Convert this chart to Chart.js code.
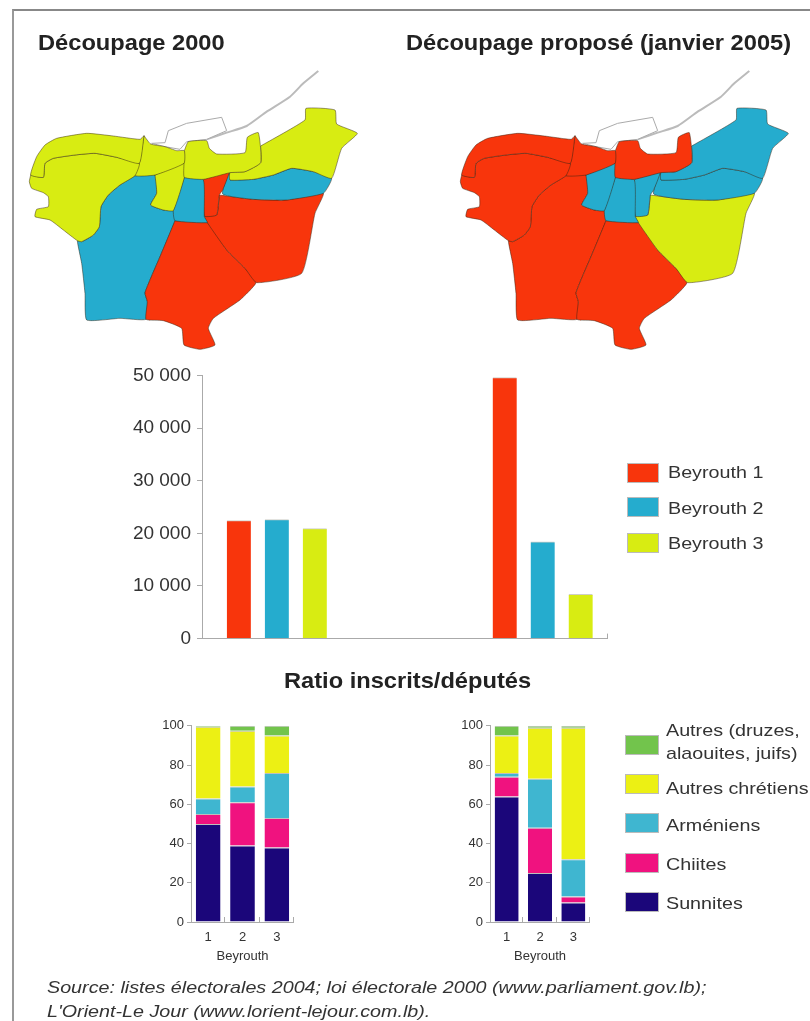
<!DOCTYPE html>
<html lang="fr">
<head>
<meta charset="utf-8">
<title>Découpage électoral de Beyrouth</title>
<script src="https://cdn.jsdelivr.net/npm/chart.js@4"></script>
<style>
  html, body { margin: 0; background: #fff; }
  #page { position: relative; width: 810px; height: 1021px; overflow: hidden; font-family: "Liberation Sans", Arial, sans-serif; color: #222; filter: blur(0.55px); }
  #frame { position: absolute; left: 12px; top: 9px; right: -4px; bottom: -4px; border-left: 2px solid #999; border-top: 2px solid #888; }
  #page canvas { position: absolute; }
  .title { position: absolute; font-weight: bold; font-size: 22px; white-space: nowrap; line-height: 24px; transform: scaleX(1.075); transform-origin: 0 50%; }
  .lg { position: absolute; font-size: 17px; line-height: 23px; white-space: nowrap; color: #333; transform: scaleX(1.16); transform-origin: 0 50%; }
  .sw { position: absolute; box-sizing: border-box; border: 1px solid #bbb; }
  #source { position: absolute; left: 47px; top: 976px; font-size: 17px; font-style: italic; line-height: 24px; white-space: nowrap; color: #333; transform: scaleX(1.16); transform-origin: 0 50%; }
</style>
</head>
<body>
<div id="page">
  <div id="frame"></div>
  <div class="title" style="left:38px;top:31px">Découpage 2000</div>
  <div class="title" style="left:406px;top:31px">Découpage proposé (janvier 2005)</div>
  <div class="title" style="left:284px;top:669px">Ratio inscrits/députés</div>

  <canvas id="map-2000" width="379" height="300" style="left:0;top:60px"></canvas>
  <canvas id="map-2005" width="379" height="300" style="left:431px;top:60px"></canvas>
  <canvas id="ratio-chart" width="508" height="298" style="left:100px;top:358px"></canvas>
  <canvas id="share-2000" width="144" height="249" style="left:150px;top:715px"></canvas>
  <canvas id="share-2005" width="140" height="249" style="left:450px;top:715px"></canvas>

  <div id="legend-ratio"></div>
  <div id="legend-share"></div>
  <div id="source">Source: listes électorales 2004; loi électorale 2000 (www.parliament.gov.lb);<br>L'Orient-Le Jour (www.lorient-lejour.com.lb).</div>
</div>

<script>
// colours
const RED = '#f8350c';
const BLUE = '#25acce';
const LIME = '#d8ec12';

// map outlines (x, y in map units)
const zoneA = [[432,407],[420,418],[340,408],[260,400],[170,415],[135,435],[110,470],[92,525],[130,532],[135,490],[160,475],[225,465],[285,460],[350,472],[418,490]];
const zoneB = [[92,525],[130,532],[135,490],[160,475],[225,465],[285,460],[350,472],[418,490],[405,527],[360,555],[325,585],[303,620],[298,680],[280,705],[245,725],[232,722],[190,690],[150,660],[105,650],[110,628],[145,620],[145,590],[130,578],[95,565],[88,545]];
const zoneC = [[432,407],[452,432],[495,440],[530,452],[553,452],[552,490],[465,525],[405,527],[418,490]];
const zoneD = [[553,452],[565,425],[620,422],[628,445],[650,462],[735,458],[742,412],[775,398],[782,488],[735,515],[690,518],[610,538],[553,532],[552,490]];
const zoneE = [[465,525],[552,490],[553,532],[520,632],[490,630],[452,615],[470,580]];
const zoneF = [[553,532],[610,540],[613,650],[622,668],[525,662],[520,632]];
const zoneG = [[610,538],[688,512],[668,570],[658,585],[650,645],[613,648]];
const zoneH = [[782,438],[915,360],[918,325],[1005,330],[1010,372],[1072,400],[1025,445],[995,535],[940,515],[875,505],[820,525],[760,538],[690,540],[690,518],[735,515],[782,488]];
const zoneI = [[690,540],[760,538],[820,525],[875,505],[940,515],[995,535],[970,580],[860,600],[760,598],[668,582],[688,512]];
const zoneJ = [[658,585],[760,598],[860,600],[970,580],[945,640],[905,820],[770,848],[735,805],[680,750],[622,668],[613,648],[650,645]];
const zoneK = [[525,662],[622,668],[680,750],[735,805],[768,848],[720,900],[640,955],[625,985],[645,1035],[600,1048],[552,1035],[545,985],[490,962],[438,958],[442,905],[435,878],[480,770]];
const zoneL = [[405,527],[465,525],[470,580],[452,615],[490,630],[520,632],[525,662],[480,770],[435,878],[442,905],[438,958],[360,955],[260,960],[255,880],[245,790],[232,722],[245,725],[280,705],[298,680],[303,620],[325,585],[360,555]];
const port = [[455,430],[495,428],[505,392],[560,370],[665,352],[680,392],[620,418],[560,425],[540,448],[495,440]];
const coast = [[620,418],[680,398],[740,378],[800,335],[870,290],[910,250],[955,213]];

const zones = [zoneA, zoneB, zoneC, zoneD, zoneE, zoneF, zoneG, zoneH, zoneI, zoneJ, zoneK, zoneL];
const zoneColors2000 = [LIME, LIME, LIME, LIME, LIME, BLUE, RED, LIME, BLUE, RED, RED, BLUE];
const zoneColors2005 = [RED, RED, RED, RED, BLUE, BLUE, BLUE, BLUE, BLUE, LIME, RED, RED];

// ratio inscrits/députés
const ratioNames = ['Beyrouth 1', 'Beyrouth 2', 'Beyrouth 3'];
const ratioColors = [RED, BLUE, LIME];
const ratioSlots = [[1, 8], [2, 9], [3, 10]];
const ratio1 = [22400, 49600];
const ratio2 = [22600, 18400];
const ratio3 = [20900, 8400];
const ratioTicks = [0, 10000, 20000, 30000, 40000, 50000];

// parts confessionnelles (%), par circonscription
const districts = ['1', '2', '3'];
const shareNames = ['Sunnites', 'Chiites', 'Arméniens', 'Autres chrétiens', 'Autres (druzes, alaouites, juifs)'];
const shareColors = ['#1b067a', '#f0127f', '#3fb6d0', '#ecf014', '#72c44c'];
const sunnites2000 = [50, 39, 38];
const chiites2000 = [5, 22, 15];
const armeniens2000 = [8, 8, 23];
const chretiens2000 = [36.5, 28.5, 19];
const autres2000 = [0.5, 2.5, 5];
const sunnites2005 = [64, 25, 10];
const chiites2005 = [10, 23, 3];
const armeniens2005 = [2, 25, 19];
const chretiens2005 = [19, 26, 67];
const autres2005 = [5, 1, 1];

const AXIS = '#aaa';
const TICK_TEXT = '#333';
const FONT = '"Liberation Sans", Arial, sans-serif';

function closed(points) {
  return points.concat([points[0]]);
}

function drawMap(id, colors) {
  const datasets = zones.map((zone, i) => ({
    data: closed(zone),
    showLine: true,
    fill: 'shape',
    backgroundColor: colors[i],
    borderColor: 'rgba(50,35,20,0.6)',
    borderWidth: 0.8,
    pointRadius: 0,
    tension: 0.15
  }));
  datasets.push({ data: closed(port), showLine: true, fill: 'shape', backgroundColor: '#fff', borderColor: '#aaa', borderWidth: 1, pointRadius: 0 });
  datasets.push({ data: coast, showLine: true, fill: false, borderColor: '#bbb', borderWidth: 2, pointRadius: 0, tension: 0.2 });

  new Chart(document.getElementById(id), {
    type: 'scatter',
    data: { datasets },
    options: {
      responsive: false,
      animation: false,
      events: [],
      layout: { padding: 0 },
      plugins: { legend: { display: false }, tooltip: { enabled: false } },
      scales: {
        x: { type: 'linear', display: false, min: 0, max: 1137 },
        y: { type: 'linear', display: false, min: 180, max: 1080, reverse: true }
      }
    }
  });
}

// small upward ticks on the x axis, at the edges of each slot
const innerTicks = {
  id: 'innerTicks',
  afterDraw(chart) {
    const { ctx, scales: { x } } = chart;
    const edges = chart.options.plugins.innerTicks.edges;
    ctx.save();
    ctx.strokeStyle = AXIS;
    ctx.lineWidth = 1;
    edges.forEach(f => {
      const px = Math.round(x.left + (x.right - x.left) * f) - 0.5;
      ctx.beginPath();
      ctx.moveTo(px, x.top);
      ctx.lineTo(px, x.top - 5);
      ctx.stroke();
    });
    ctx.restore();
  }
};

function spaced(value) {
  return String(value).replace(/\B(?=(\d{3})+$)/g, ' ');
}

function drawRatioChart() {
  const series = [ratio1, ratio2, ratio3];
  new Chart(document.getElementById('ratio-chart'), {
    type: 'bar',
    data: {
      datasets: series.map((values, i) => ({
        label: ratioNames[i],
        data: values.map((v, j) => ({ x: ratioSlots[i][j], y: v })),
        backgroundColor: ratioColors[i],
        borderColor: 'rgba(60,60,30,0.25)',
        borderWidth: { top: 1, left: 0, right: 0, bottom: 0 },
        barThickness: 24,
        grouped: false
      }))
    },
    options: {
      responsive: false,
      animation: false,
      events: [],
      layout: { padding: { top: 10, bottom: 10, left: 0, right: 0 } },
      plugins: { legend: { display: false }, tooltip: { enabled: false }, innerTicks: { edges: [1] } },
      scales: {
        x: {
          type: 'linear', min: 0.03, max: 10.72,
          offset: false,
          ticks: { display: false },
          grid: { display: false },
          border: { color: AXIS, width: 1 },
          afterFit: s => { s.height = 1; }
        },
        y: {
          min: 0, max: 50000,
          afterBuildTicks: s => { s.ticks = ratioTicks.map(v => ({ value: v })); },
          ticks: { color: TICK_TEXT, font: { family: FONT, size: 19 }, padding: 6, callback: spaced },
          grid: { drawOnChartArea: false, tickLength: 5, tickColor: AXIS },
          border: { color: AXIS, width: 1 },
          afterFit: s => { s.width = 102; }
        }
      }
    },
    plugins: [innerTicks]
  });
}

function drawShareChart(id, series, yWidth) {
  new Chart(document.getElementById(id), {
    type: 'bar',
    data: {
      labels: districts,
      datasets: series.map((values, i) => ({
        label: shareNames[i],
        data: values,
        backgroundColor: shareColors[i],
        borderColor: 'rgba(40,40,30,0.3)',
        borderWidth: { top: 1, left: 0, right: 0, bottom: 0 },
        barPercentage: 1,
        categoryPercentage: 0.72
      }))
    },
    options: {
      responsive: false,
      animation: false,
      events: [],
      layout: { padding: { top: 10, bottom: 0, left: 0, right: 0 } },
      plugins: { legend: { display: false }, tooltip: { enabled: false }, innerTicks: { edges: [1 / 3, 2 / 3, 1] } },
      scales: {
        x: {
          stacked: true,
          ticks: { color: TICK_TEXT, font: { family: FONT, size: 13 }, padding: 0 },
          grid: { display: false },
          border: { color: AXIS, width: 1 },
          title: { display: true, text: 'Beyrouth', color: TICK_TEXT, font: { family: FONT, size: 13 }, padding: { top: 2, bottom: 0 } },
          afterFit: s => { s.height = 42; }
        },
        y: {
          stacked: true,
          min: 0, max: 100,
          ticks: { stepSize: 20, color: TICK_TEXT, font: { family: FONT, size: 13 }, padding: 3 },
          grid: { drawOnChartArea: false, tickLength: 4, tickColor: AXIS },
          border: { color: AXIS, width: 1 },
          afterFit: s => { s.width = yWidth; }
        }
      }
    },
    plugins: [innerTicks]
  });
}

// HTML legends, same entries as the datasets
function addLegend(hostId, names, colors, swatchX, textX, swatchYs, textYs, w, h) {
  const host = document.getElementById(hostId);
  names.forEach((name, i) => {
    const sw = document.createElement('div');
    sw.className = 'sw';
    sw.style.cssText = `left:${swatchX}px;top:${swatchYs[i]}px;width:${w}px;height:${h}px;background:${colors[i]}`;
    host.appendChild(sw);
    const t = document.createElement('div');
    t.className = 'lg';
    t.style.cssText = `left:${textX}px;top:${textYs[i]}px`;
    t.innerHTML = name;
    host.appendChild(t);
  });
}

drawMap('map-2000', zoneColors2000);
drawMap('map-2005', zoneColors2005);
drawRatioChart();
drawShareChart('share-2000', [sunnites2000, chiites2000, armeniens2000, chretiens2000, autres2000], 41);
drawShareChart('share-2005', [sunnites2005, chiites2005, armeniens2005, chretiens2005, autres2005], 40);

addLegend('legend-ratio', ratioNames, ratioColors, 627, 668, [463, 497, 533], [461, 497, 532], 32, 20);
addLegend('legend-share',
  ['Sunnites', 'Chiites', 'Arméniens', 'Autres chrétiens', 'Autres (druzes,<br>alaouites, juifs)'],
  shareColors, 625, 666, [892, 853, 813, 774, 735], [892, 853, 814, 777, 719], 34, 20);
</script>
</body>
</html>
